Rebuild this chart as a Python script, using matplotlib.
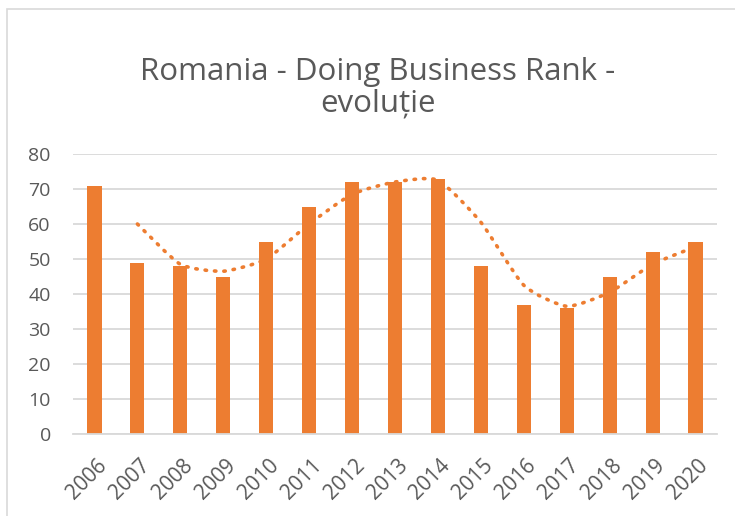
import numpy as np
import matplotlib
matplotlib.use("Agg")
from matplotlib import pyplot as plt
from matplotlib.path import Path
from matplotlib.patches import PathPatch, Rectangle
from matplotlib.transforms import ScaledTranslation

years = ["2006", "2007", "2008", "2009", "2010", "2011", "2012", "2013",
         "2014", "2015", "2016", "2017", "2018", "2019", "2020"]
rank = [71, 49, 48, 45, 55, 65, 72, 72, 73, 48, 37, 36, 45, 52, 55]

ORANGE = "#ED7D31"
GREY_TXT = "#595959"
GRID = "#D9D9D9"

plt.rcParams["font.family"] = ["Open Sans", "DejaVu Sans"]

fig = plt.figure(figsize=(7.35, 5.16), dpi=100)
ax = fig.add_axes([73 / 735, 1 - 434 / 516, 644 / 735, 280 / 516])

x = np.arange(len(years))
ax.bar(x, rank, width=0.33, color=ORANGE, zorder=2)

# 2-period moving average, drawn as a smoothed bezier like the office trendline
ma = [(rank[i - 1] + rank[i]) / 2 for i in range(1, len(rank))]
px = x[1:].astype(float)
py = np.array(ma)
verts = [(px[0], py[0])]
codes = [Path.MOVETO]
t = 0.1
for i in range(len(px) - 1):
    p0 = (px[max(i - 1, 0)], py[max(i - 1, 0)])
    p1 = (px[i], py[i])
    p2 = (px[i + 1], py[i + 1])
    p3 = (px[min(i + 2, len(px) - 1)], py[min(i + 2, len(px) - 1)])
    c1 = (p1[0] + (p2[0] - p0[0]) * t, p1[1] + (p2[1] - p0[1]) * t)
    c2 = (p2[0] - (p3[0] - p1[0]) * t, p2[1] - (p3[1] - p1[1]) * t)
    verts += [c1, c2, p2]
    codes += [Path.CURVE4] * 3
ax.add_patch(PathPatch(Path(verts, codes), fill=False, edgecolor=ORANGE,
                       lw=2.6, linestyle=(0, (0.4, 2.2)), capstyle="round",
                       zorder=3))

ax.set_xlim(-0.5, len(years) - 0.5)
ax.set_ylim(0, 80)
ax.set_yticks(range(0, 81, 10))
ax.yaxis.grid(True, color=GRID, lw=1.3, zorder=0)
ax.set_axisbelow(True)
for side in ["top", "right", "left"]:
    ax.spines[side].set_visible(False)
ax.spines["bottom"].set_color(GRID)
ax.spines["bottom"].set_linewidth(1.3)
ax.tick_params(axis="y", length=0, colors=GREY_TXT, labelsize=14, pad=16)
ax.tick_params(axis="x", length=0, colors=GREY_TXT, labelsize=15, pad=15)
ax.set_xticks(x)
ax.set_xticklabels(years, rotation=45, ha="right", rotation_mode="anchor")
shift = ScaledTranslation(2 / 100, 0, fig.dpi_scale_trans)
for lbl in ax.get_xticklabels():
    lbl.set_transform(lbl.get_transform() + shift)

fig.text(378 / 735, 1 - 72 / 516, "Romania - Doing Business Rank -",
         ha="center", va="center", fontsize=22.5, color=GREY_TXT)
fig.text(378 / 735, 1 - 103 / 516, "evoluție",
         ha="center", va="center", fontsize=22.5, color=GREY_TXT)

# outer chart frame
fig.patches.append(Rectangle((7 / 735, -0.05), 1.2, 1 - 9 / 516 + 0.05,
                             transform=fig.transFigure, fill=False,
                             edgecolor=GRID, lw=1.2))

fig.savefig("out.png", dpi=100)
